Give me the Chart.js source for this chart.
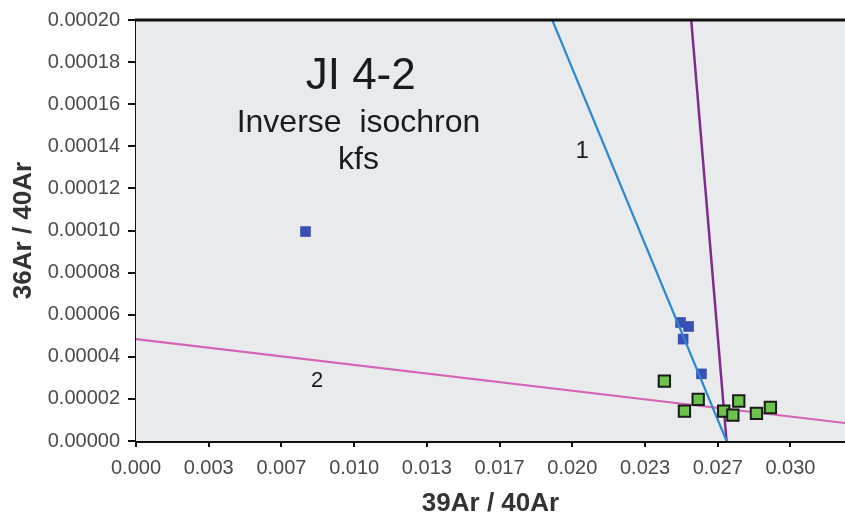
<!DOCTYPE html>
<html>
<head>
<meta charset="utf-8">
<script src="https://cdn.jsdelivr.net/npm/chart.js@4/dist/chart.umd.min.js"></script>
<style>
  html, body { margin: 0; padding: 0; background: #ffffff; }
  #wrap { width: 845px; height: 519px; }
</style>
</head>
<body>
<div id="wrap"><canvas id="c" width="845" height="519"></canvas></div>
<script>
// ---- data ----
const xTickValues = [0, 0.0033333, 0.0066667, 0.01, 0.0133333, 0.0166667, 0.02, 0.0233333, 0.0266667, 0.03];
const xTickLabels = ['0.000', '0.003', '0.007', '0.010', '0.013', '0.017', '0.020', '0.023', '0.027', '0.030'];
const yTickValues = [0, 0.00002, 0.00004, 0.00006, 0.00008, 0.0001, 0.00012, 0.00014, 0.00016, 0.00018, 0.0002];
const yTickLabels = ['0.00000', '0.00002', '0.00004', '0.00006', '0.00008', '0.00010', '0.00012', '0.00014', '0.00016', '0.00018', '0.00020'];

const blueX = [0.00777, 0.02496, 0.02533, 0.02508, 0.02592];
const blueY = [0.0000995, 0.0000563, 0.0000544, 0.0000484, 0.0000319];

const greenX = [0.02422, 0.02514, 0.02577, 0.02694, 0.02736, 0.02763, 0.02844, 0.02908];
const greenY = [0.0000284, 0.0000142, 0.0000198, 0.0000142, 0.0000123, 0.0000190, 0.0000131, 0.0000159];

// isochron fit lines
const line1X = [0.01908, 0.02707];
const line1Y = [0.00020, 0.0];
const lineVX = [0.02545, 0.02707];
const lineVY = [0.00020, 0.0];
const line2X = [0.0, 0.0325];
const line2Y = [0.0000484, 0.0000085];

const titleText = 'JI 4-2';
const subText1 = 'Inverse  isochron';
const subText2 = 'kfs';

const X_MIN = 0, X_MAX = 0.0325, Y_MIN = 0, Y_MAX = 0.0002;

const pts = (xs, ys) => xs.map((x, i) => ({ x: x, y: ys[i] }));

const FONT = '"Liberation Sans", Arial, sans-serif';

const decorPlugin = {
  id: 'decor',
  beforeDatasetsDraw(chart) {
    const { ctx, chartArea: a } = chart;
    ctx.save();
    ctx.fillStyle = '#e9eaec';
    ctx.fillRect(a.left, a.top, a.right - a.left, a.bottom - a.top);
    ctx.restore();
  },
  afterDraw(chart) {
    const { ctx, chartArea: a, scales } = chart;
    const xs = scales.x, ys = scales.y;
    ctx.save();
    // top frame line
    ctx.strokeStyle = '#111';
    ctx.lineWidth = 3;
    ctx.beginPath();
    ctx.moveTo(a.left - 1, a.top);
    ctx.lineTo(a.right, a.top);
    ctx.stroke();
    // annotation texts placed in data coordinates
    ctx.fillStyle = '#1b1b1b';
    ctx.textAlign = 'center';
    ctx.textBaseline = 'middle';
    ctx.font = '44px ' + FONT;
    ctx.fillText(titleText, xs.getPixelForValue(0.0103), ys.getPixelForValue(0.0001730));
    ctx.font = '32px ' + FONT;
    ctx.fillText(subText1, xs.getPixelForValue(0.0102), ys.getPixelForValue(0.0001512));
    ctx.fillText(subText2, xs.getPixelForValue(0.0102), ys.getPixelForValue(0.0001335));
    ctx.font = '24px ' + FONT;
    ctx.fillText('1', xs.getPixelForValue(0.02045), ys.getPixelForValue(0.0001378));
    ctx.font = '22px ' + FONT;
    ctx.fillText('2', xs.getPixelForValue(0.00830), ys.getPixelForValue(0.0000284));
    ctx.restore();
  }
};

new Chart(document.getElementById('c'), {
  type: 'scatter',
  data: {
    datasets: [
      {
        label: 'steps 2',
        data: pts(greenX, greenY),
        pointStyle: 'rect',
        pointRadius: 8,
        backgroundColor: '#6cc24a',
        borderColor: '#1a1a1a',
        borderWidth: 2,
        showLine: false
      },
      {
        label: 'line 1',
        data: pts(line1X, line1Y),
        showLine: true,
        pointRadius: 0,
        borderColor: '#2b88d2',
        borderWidth: 2.2,
        fill: false
      },
      {
        label: 'steps 1',
        data: pts(blueX, blueY),
        pointStyle: 'rect',
        pointRadius: 7.5,
        backgroundColor: '#3a4fb3',
        borderColor: '#3a4fb3',
        borderWidth: 0,
        showLine: false
      },
      {
        label: 'line v',
        data: pts(lineVX, lineVY),
        showLine: true,
        pointRadius: 0,
        borderColor: '#7d2c8c',
        borderWidth: 2.5,
        fill: false
      },
      {
        label: 'line 2',
        data: pts(line2X, line2Y),
        showLine: true,
        pointRadius: 0,
        borderColor: '#d464b6',
        borderWidth: 2,
        fill: false
      }
    ]
  },
  options: {
    responsive: false,
    animation: false,
    devicePixelRatio: 1,
    layout: { autoPadding: false, padding: { top: 17, right: 0, bottom: 0, left: 0 } },
    plugins: {
      legend: { display: false },
      tooltip: { enabled: false }
    },
    scales: {
      x: {
        type: 'linear',
        min: X_MIN,
        max: X_MAX,
        afterBuildTicks(scale) { scale.ticks = xTickValues.map(v => ({ value: v })); },
        afterFit(scale) { scale.height = 78; scale.paddingRight = 0; scale.paddingLeft = 0; },
        ticks: {
          callback: (v, i) => xTickLabels[i],
          color: '#4a4a4a',
          font: { family: FONT, size: 20 },
          padding: 9,
          maxRotation: 0,
          autoSkip: false
        },
        grid: { drawOnChartArea: false, drawTicks: true, tickLength: 6, color: '#111', lineWidth: 2 },
        border: { display: true, color: '#111', width: 3 },
        title: {
          display: true,
          text: '39Ar / 40Ar',
          color: '#333',
          font: { family: FONT, size: 26, weight: 'bold', lineHeight: 1 },
          padding: { top: 0, bottom: 2 }
        }
      },
      y: {
        type: 'linear',
        min: Y_MIN,
        max: Y_MAX,
        afterBuildTicks(scale) { scale.ticks = yTickValues.map(v => ({ value: v })); },
        afterFit(scale) { scale.width = 136; },
        ticks: {
          callback: (v, i) => yTickLabels[i],
          color: '#4a4a4a',
          font: { family: FONT, size: 20 },
          padding: 8,
          autoSkip: false
        },
        grid: { drawOnChartArea: false, drawTicks: true, tickLength: 8, color: '#111', lineWidth: 2 },
        border: { display: true, color: '#111', width: 3 },
        title: {
          display: true,
          text: '36Ar / 40Ar',
          color: '#333',
          font: { family: FONT, size: 26, weight: 'bold', lineHeight: 1 },
          padding: { top: 11, bottom: 0 }
        }
      }
    }
  },
  plugins: [decorPlugin]
});
</script>
</body>
</html>
